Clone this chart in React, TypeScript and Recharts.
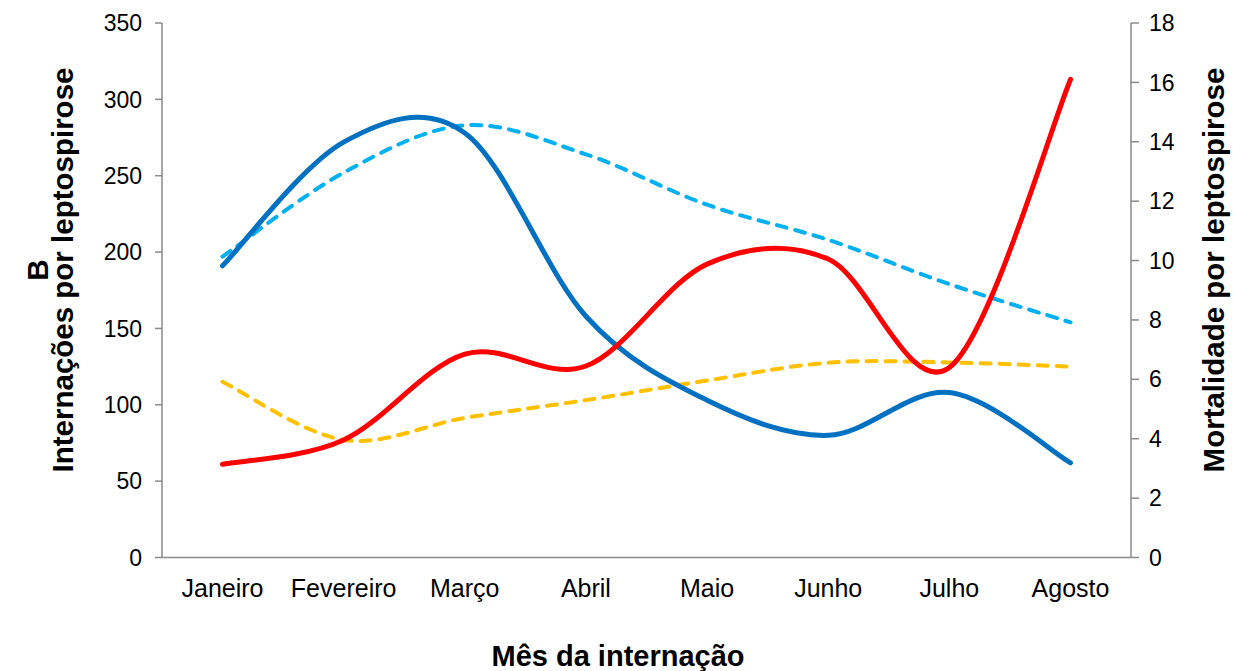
import React from "react";
import { LineChart, Line, XAxis, YAxis, Label } from "recharts";

const months = ["Janeiro", "Fevereiro", "Março", "Abril", "Maio", "Junho", "Julho", "Agosto"];
// Internações (eixo esquerdo)
const internacoesA = [191, 272, 278, 158, 103, 80, 108, 62];
const internacoesB = [197, 252, 283, 264, 231, 208, 179, 154];
// Mortalidade (eixo direito)
const mortalidadeA = [3.14, 3.96, 6.85, 6.45, 9.88, 10.05, 6.4, 16.1];
const mortalidadeB = [5.92, 3.96, 4.7, 5.3, 5.96, 6.56, 6.57, 6.43];
const leftTicks = [0, 50, 100, 150, 200, 250, 300, 350];
const rightTicks = [0, 2, 4, 6, 8, 10, 12, 14, 16, 18];

const data = months.map((m, i) => ({
  mes: m,
  intA: internacoesA[i],
  intB: internacoesB[i],
  mortA: mortalidadeA[i],
  mortB: mortalidadeB[i],
}));

// suavização parecida com a do Excel (Catmull-Rom em Bézier)
const smoothCurve = (context: any) => {
  let pts: number[][] = [];
  return {
    areaStart() {},
    areaEnd() {},
    lineStart() {
      pts = [];
    },
    point(x: number, y: number) {
      pts.push([+x, +y]);
    },
    lineEnd() {
      const n = pts.length;
      if (!n) return;
      context.moveTo(pts[0][0], pts[0][1]);
      for (let i = 0; i < n - 1; i++) {
        const p0 = pts[Math.max(i - 1, 0)];
        const p1 = pts[i];
        const p2 = pts[i + 1];
        const p3 = pts[Math.min(i + 2, n - 1)];
        context.bezierCurveTo(
          p1[0] + (p2[0] - p0[0]) / 6,
          p1[1] + (p2[1] - p0[1]) / 6,
          p2[0] - (p3[0] - p1[0]) / 6,
          p2[1] - (p3[1] - p1[1]) / 6,
          p2[0],
          p2[1]
        );
      }
    },
  };
};

const FONT = "'Liberation Sans', Arial, sans-serif";
const AXIS = "#8a8a8a";

export default function App() {
  return (
    <div style={{ position: "absolute", left: 0, top: 0, background: "#fff" }}>
      <LineChart
        width={1233}
        height={671}
        data={data}
        margin={{ top: 23, right: 0, bottom: 0, left: 0 }}
        style={{ fontFamily: FONT }}
      >
        <XAxis
          dataKey="mes"
          padding={{ left: 60.5, right: 60.5 }}
          height={113.5}
          tickLine={false}
          tickSize={0}
          tickMargin={22}
          axisLine={{ stroke: AXIS, strokeWidth: 1.5 }}
          tick={{ fontSize: 25, fill: "#000", fontFamily: FONT }}
          interval={0}
        >
          <Label
            content={() => (
              <text x={618} y={666} textAnchor="middle" fontSize={29} fontWeight="bold" fill="#000" fontFamily={FONT}>
                Mês da internação
              </text>
            )}
          />
        </XAxis>
        <YAxis
          yAxisId="left"
          domain={[0, 350]}
          ticks={leftTicks}
          width={162}
          tickSize={7}
          tickMargin={13}
          axisLine={{ stroke: AXIS, strokeWidth: 1.5 }}
          tickLine={{ stroke: AXIS, strokeWidth: 1.5 }}
          tick={{ fontSize: 23, fill: "#000", fontFamily: FONT }}
        >
          <Label
            content={() => (
              <g>
                <text transform="translate(37,270) rotate(-90)" dy="0.36em" textAnchor="middle" fontSize={29.5} fontWeight="bold" fill="#000" fontFamily={FONT}>
                  B
                </text>
                <text transform="translate(62,270) rotate(-90)" dy="0.36em" textAnchor="middle" fontSize={29.5} fontWeight="bold" fill="#000" fontFamily={FONT}>
                  Internações por leptospirose
                </text>
              </g>
            )}
          />
        </YAxis>
        <YAxis
          yAxisId="right"
          orientation="right"
          domain={[0, 18]}
          ticks={rightTicks}
          width={102}
          tickSize={8}
          tickMargin={10}
          axisLine={{ stroke: AXIS, strokeWidth: 1.5 }}
          tickLine={{ stroke: AXIS, strokeWidth: 1.5 }}
          tick={{ fontSize: 23, fill: "#000", fontFamily: FONT }}
        >
          <Label
            content={() => (
              <text transform="translate(1213,270) rotate(-90)" dy="0.36em" textAnchor="middle" fontSize={29.5} fontWeight="bold" fill="#000" fontFamily={FONT}>
                Mortalidade por leptospirose
              </text>
            )}
          />
        </YAxis>
        <Line
          yAxisId="left"
          dataKey="intB"
          type={smoothCurve as any}
          stroke="#00B0F0"
          strokeWidth={4}
          strokeDasharray="10 9"
          strokeLinecap="round"
          dot={false}
          activeDot={false}
          isAnimationActive={false}
        />
        <Line
          yAxisId="right"
          dataKey="mortB"
          type={smoothCurve as any}
          stroke="#FFC000"
          strokeWidth={4}
          strokeDasharray="10 9"
          strokeLinecap="round"
          dot={false}
          activeDot={false}
          isAnimationActive={false}
        />
        <Line
          yAxisId="left"
          dataKey="intA"
          type={smoothCurve as any}
          stroke="#0070C0"
          strokeWidth={5}
          strokeLinecap="round"
          dot={false}
          activeDot={false}
          isAnimationActive={false}
        />
        <Line
          yAxisId="right"
          dataKey="mortA"
          type={smoothCurve as any}
          stroke="#FF0000"
          strokeWidth={5}
          strokeLinecap="round"
          dot={false}
          activeDot={false}
          isAnimationActive={false}
        />
      </LineChart>
    </div>
  );
}
